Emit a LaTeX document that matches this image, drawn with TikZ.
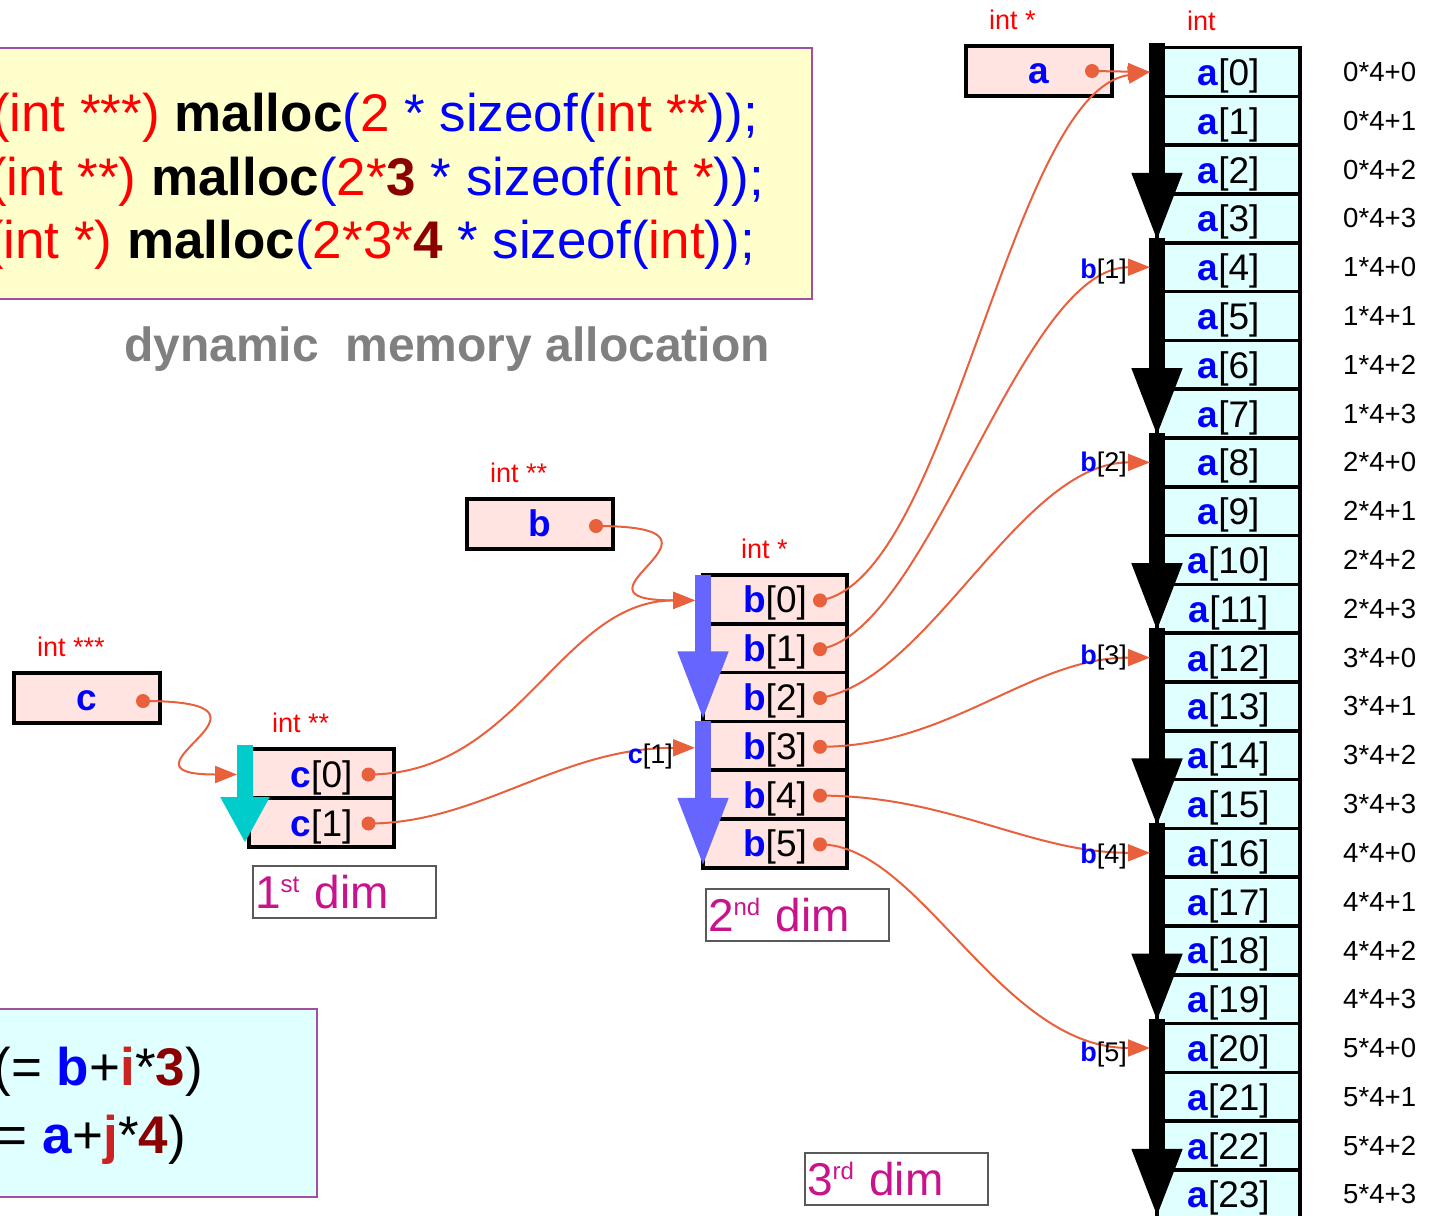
\documentclass[tikz,border=0pt]{standalone}
\usepackage{fontspec}
\setmainfont{Liberation Sans}
\usetikzlibrary{arrows.meta,positioning,calc}
\definecolor{ptrred}{HTML}{FF0000}
\definecolor{idxblue}{HTML}{0000FF}
\definecolor{deepred}{HTML}{8B0000}
\definecolor{irx}{HTML}{CC2222}
\definecolor{wirex}{HTML}{E9603D}
\definecolor{pinkbg}{HTML}{FFE4E1}
\definecolor{cyanbg}{HTML}{E0FFFF}
\definecolor{notebg}{HTML}{FFFFCC}
\definecolor{framex}{HTML}{A050A0}
\definecolor{dimx}{HTML}{C8148C}
\definecolor{barblue}{HTML}{6666FF}
\definecolor{barcyan}{HTML}{00CCCC}
\definecolor{titlegray}{HTML}{808080}
\tikzset{
  notebox/.style={draw=framex,line width=1.5pt,fill=notebg,outer sep=0pt},
  codeln/.style={anchor=base east,inner sep=0pt,font=\fontsize{53}{63}\selectfont},
  ptr/.style={draw=black,line width=3.5pt,fill=pinkbg,minimum width=146pt,minimum height=50pt,
    outer sep=0pt,inner sep=0pt,text height=24pt,text depth=0pt,text=idxblue,
    font=\fontsize{37}{44}\selectfont\bfseries},
  cellp/.style={draw=black,line width=3.5pt,fill=pinkbg,minimum width=145pt,minimum height=49pt,
    outer sep=0pt,inner sep=0pt,text height=27pt,text depth=0pt,font=\fontsize{37}{44}\selectfont},
  cella/.style={cellp,fill=cyanbg,minimum width=143pt,minimum height=48.8pt},
  typ/.style={anchor=base west,inner sep=0pt,text=ptrred,font=\fontsize{27}{32}\selectfont},
  offs/.style={inner sep=3pt,font=\fontsize{27.6}{33}\selectfont},
  idxlbl/.style={anchor=east,inner sep=0pt,font=\fontsize{27}{32}\selectfont},
  dot/.style={circle,fill=wirex,inner sep=0pt,minimum size=14pt},
  dimbox/.style={draw=black!65,line width=1.2pt,fill=white,anchor=north west,text=dimx,
    text width=179pt,inner xsep=2pt,inner ysep=0pt,minimum height=52pt,align=left,outer sep=0pt,
    font=\fontsize{46}{55}\selectfont},
  bar/.style={line width=16pt,-{Triangle[length=70pt,width=46pt]}},
  link/.style={draw=wirex,line width=2pt,-{Triangle[length=22pt,width=17pt]}}
}
\newcommand{\cRed}[1]{\textcolor{ptrred}{#1}}
\newcommand{\cBlue}[1]{\textcolor{idxblue}{#1}}
\newcommand{\cDeep}[1]{\textcolor{deepred}{\textbf{#1}}}
\newcommand{\ix}[2]{\textcolor{idxblue}{\textbf{#1}}[#2]}
\newcommand{\supx}[1]{\raisebox{16pt}{\fontsize{24}{24}\selectfont #1}}

\begin{document}
\begin{tikzpicture}[x=1pt,y=-1pt]
\useasboundingbox (0,0) rectangle (1433,1216);
\clip (0,0) rectangle (1433,1216);
\node[notebox,anchor=north east,minimum width=830pt,minimum height=251pt] (note) at (812,48) {};
\node[codeln] (l1) at (758,131) {\cRed{(int ***)} \textbf{malloc}\cBlue{(}\cRed{2} \cBlue{* sizeof(}\cRed{int **}\cBlue{));}};
\node[codeln] (l2) at (764,195) {\cRed{(int **)} \textbf{malloc}\cBlue{(}\cRed{2*}\cDeep{3} \cBlue{* sizeof(}\cRed{int *}\cBlue{));}};
\node[codeln] (l3) at (755,258) {\cRed{(int *)} \textbf{malloc}\cBlue{(}\cRed{2*3*}\cDeep{4} \cBlue{* sizeof(}\cRed{int}\cBlue{));}};
\node[anchor=base west,inner sep=0pt,text=titlegray,font=\fontsize{48}{58}\selectfont\bfseries] (ttl) at (124,361) {dynamic~~memory allocation};
\node[notebox,fill=cyanbg,anchor=north east,minimum width=340pt,minimum height=188pt] (rule) at (317,1009) {};
\node[codeln] (r1) at (203,1085) {(= \cBlue{\textbf{b}}+\textcolor{irx}{\textbf{i}}*\cDeep{3})};
\node[codeln] (r2) at (186,1153) {= \cBlue{\textbf{a}}+\textcolor{irx}{\textbf{j}}*\cDeep{4})};

\node[ptr] (pc) at (87,698) {c};
\node[ptr] (pb) at (540,524) {b};
\node[ptr] (pa) at (1039,71) {a};
\foreach \i in {0,1} \node[cellp] (c\i) at (321.5,773.5+49*\i) {\ix{c}{\i}};
\foreach \i in {0,...,5} \node[cellp,minimum width=144pt,minimum height=48.8pt] (b\i) at (775,599.4+48.8*\i) {\ix{b}{\i}};
\foreach \i in {0,...,23} {
  \pgfmathtruncatemacro\q{\i/4}
  \pgfmathtruncatemacro\r{mod(\i,4)}
  \node[cella] (a\i) at (1228.5,72+48.8*\i) {\ix{a}{\i}};
  \node[offs,right=40pt of a\i] (o\i) {\q*4+\r};
}

\node[typ] (tc) at ([xshift=23pt,yshift=17pt]pc.north west) {int ***};
\node[typ] (tb) at ([xshift=23pt,yshift=17pt]pb.north west) {int **};
\node[typ] (ta) at ([xshift=23pt,yshift=17pt]pa.north west) {int *};
\node[typ] (tcc) at ([xshift=23pt,yshift=17pt]c0.north west) {int **};
\node[typ] (tbb) at ([xshift=38pt,yshift=17pt]b0.north west) {int *};
\node[typ] (taa) at ([xshift=30pt,yshift=17pt]a0.north west) {int};

\node[dimbox] (d1) at (253,866) {1\supx{st} dim};
\node[dimbox] (d2) at (706,889) {2\supx{nd} dim};
\node[dimbox] (d3) at (805,1153) {3\supx{rd} dim};

\foreach \k in {0,...,5} {
  \pgfmathtruncatemacro\s{4*\k}
  \pgfmathtruncatemacro\e{4*\k+3}
  \draw[bar] ([yshift=5pt]a\s.north west) -- (a\e.south west);
}
\draw[bar,barblue] (b0.north west) -- (b2.south west);
\draw[bar,barblue] (b3.north west) -- (b5.south west);
\draw[bar,barcyan,-{Triangle[length=46pt,width=46pt]}] ([xshift=-4pt,yshift=4pt]c0.north west) -- ([xshift=-4pt,yshift=4pt]c1.south west);

\node[dot] (dc) at ([xshift=56pt,yshift=-3pt]pc.center) {};
\node[dot] (db) at ([xshift=56pt,yshift=-2pt]pb.center) {};
\node[dot] (da) at ([xshift=53pt]pa.center) {};
\foreach \i in {0,1} \node[dot] (dc\i) at ([xshift=47pt,yshift=-1pt]c\i.center) {};
\foreach \i in {0,...,5} \node[dot] (db\i) at ([xshift=45pt,yshift=-1pt]b\i.center) {};

\coordinate (ec0) at ([xshift=-12pt,yshift=-1pt]c0.west);
\coordinate (eb0) at ([xshift=-8pt,yshift=-1pt]b0.west);
\coordinate (eb3) at ([xshift=-8pt,yshift=-2pt]b3.west);
\foreach \k in {0,4,...,20} \coordinate (ea\k) at ([xshift=-7pt]a\k.west);

\draw[link] (dc.center) .. controls +(167,0) and +(-137,0) .. (ec0);
\draw[link] (db.center) .. controls +(164,0) and +(-145,0) .. (eb0);
\draw[link] (dc0.center) .. controls +(151,0) and +(-135,0) .. (eb0);
\draw[link] (dc1.center) .. controls +(111,0) and +(-135,0) .. (eb3);
\draw[link] (da.center) -- (ea0);
\draw[link] (db0.center) .. controls +(130,-20) and +(-140,20) .. (ea0);
\draw[link] (db1.center) .. controls +(110,-19) and +(-130,0) .. (ea4);
\draw[link] (db2.center) .. controls +(110,-18) and +(-130,0) .. (ea8);
\draw[link] (db3.center) .. controls +(130,0) and +(-120,0) .. (ea12);
\draw[link] (db4.center) .. controls +(130,0) and +(-120,0) .. (ea16);
\draw[link] (db5.center) .. controls +(100,0) and +(-150,0) .. (ea20);

\node[idxlbl] (lc1) at ([xshift=-22pt,yshift=-9pt]eb3) {\ix{c}{1}};
\foreach \k/\d [evaluate=\k as \n using int(4*\k)] in {1/-4,2/-2,3/0,4/-4,5/-7}
  \node[idxlbl] (lb\k) at ([xshift=-23pt,yshift=\d pt]ea\n) {\ix{b}{\k}};
\end{tikzpicture}
\end{document}
